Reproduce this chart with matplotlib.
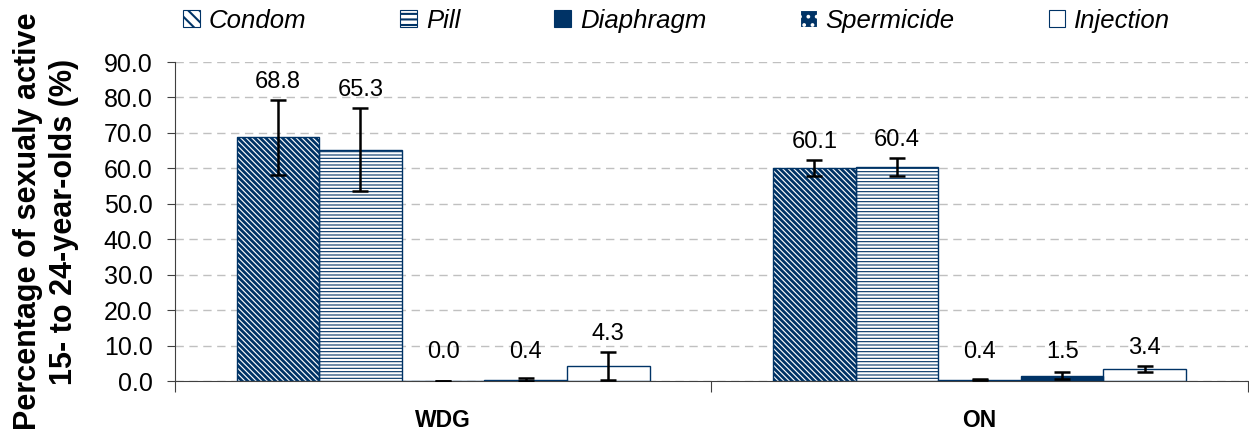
import matplotlib.pyplot as plt
import numpy as np
from matplotlib.patches import Patch

plt.rcParams['font.family'] = ['Liberation Sans', 'DejaVu Sans']
plt.rcParams['hatch.linewidth'] = 1.5

groups = ['WDG', 'ON']
methods = ['Condom', 'Pill', 'Diaphragm', 'Spermicide', 'Injection']
values = {
    'Condom': [68.8, 60.1],
    'Pill': [65.3, 60.4],
    'Diaphragm': [0.0, 0.4],
    'Spermicide': [0.4, 1.5],
    'Injection': [4.3, 3.4],
}
errors = {
    'Condom': [10.6, 2.3],
    'Pill': [11.8, 2.6],
    'Diaphragm': [0.0, 0.1],
    'Spermicide': [0.5, 1.0],
    'Injection': [4.0, 0.9],
}

navy = '#003366'
# face, hatch colour, hatch, hatch linewidth
styles = {
    'Condom': ('white', navy, '\\\\\\\\\\\\', 2.0),
    'Pill': ('white', navy, '-----', 0.8),
    'Diaphragm': (navy, navy, '', 1.0),
    'Spermicide': (navy, 'white', '..', 1.0),
    'Injection': ('white', navy, '', 1.0),
}

fig = plt.figure(figsize=(12.49, 4.37), dpi=100)
ax = fig.add_axes([0.140, 0.128, 0.859, 0.730])

x = np.arange(len(groups))
w = 0.154
handles = []
for i, m in enumerate(methods):
    pos = x + (i - 2) * w
    face, hc, hatch, hlw = styles[m]
    with plt.rc_context({'hatch.linewidth': hlw}):
        ax.bar(pos, values[m], w, color=face, edgecolor=hc, hatch=hatch,
               linewidth=0, zorder=2)
        handles.append(Patch(facecolor=face, edgecolor=hc, hatch=hatch[:3],
                             label=m, linewidth=0.8))
    ax.bar(pos, values[m], w, fill=False, edgecolor=navy, linewidth=1.0, zorder=3)
    ax.errorbar(pos, values[m], yerr=errors[m], fmt='none', ecolor='black',
                elinewidth=1.8, capsize=6, capthick=1.8, zorder=4)
    for p, v, e in zip(pos, values[m], errors[m]):
        top = max(v + e, 3.2)
        ax.text(p, top + 5, f'{v:.1f}', ha='center', va='center', fontsize=17)

ax.set_ylim(0, 90)
ax.set_xlim(-0.5, 1.5)
ax.set_yticks(np.arange(0, 91, 10))
ax.set_yticklabels([f'{t:.1f}' for t in np.arange(0, 91, 10)], fontsize=18)
ax.yaxis.grid(True, linestyle=(0, (6, 4)), color='#c0c0c0', linewidth=1)
ax.set_axisbelow(True)
ax.spines['top'].set_visible(False)
ax.spines['right'].set_visible(False)
ax.spines['left'].set_color('#404040')
ax.spines['bottom'].set_color('#404040')
ax.tick_params(axis='y', length=6, color='#404040', pad=10)

ax.set_xticks([-0.5, 0.5, 1.5])
ax.set_xticklabels([])
ax.tick_params(axis='x', length=8, color='#404040')
for xi, g in zip(x, groups):
    ax.text(xi, -11, g, ha='center', va='center', fontsize=16.5,
            fontweight='bold')

ax.set_ylabel('Percentage of sexualy active\n15- to 24-year-olds (%)',
              fontsize=22, fontweight='bold', labelpad=18, linespacing=1.25)

fig.legend(handles=handles, loc='center left', bbox_to_anchor=(0.1466, 0.953),
           ncol=5, frameon=False, prop={'style': 'italic', 'size': 18.5},
           handlelength=0.65, handleheight=0.65, handletextpad=0.35,
           columnspacing=3.65, borderaxespad=0, borderpad=0)

fig.savefig('out.png', dpi=100)
